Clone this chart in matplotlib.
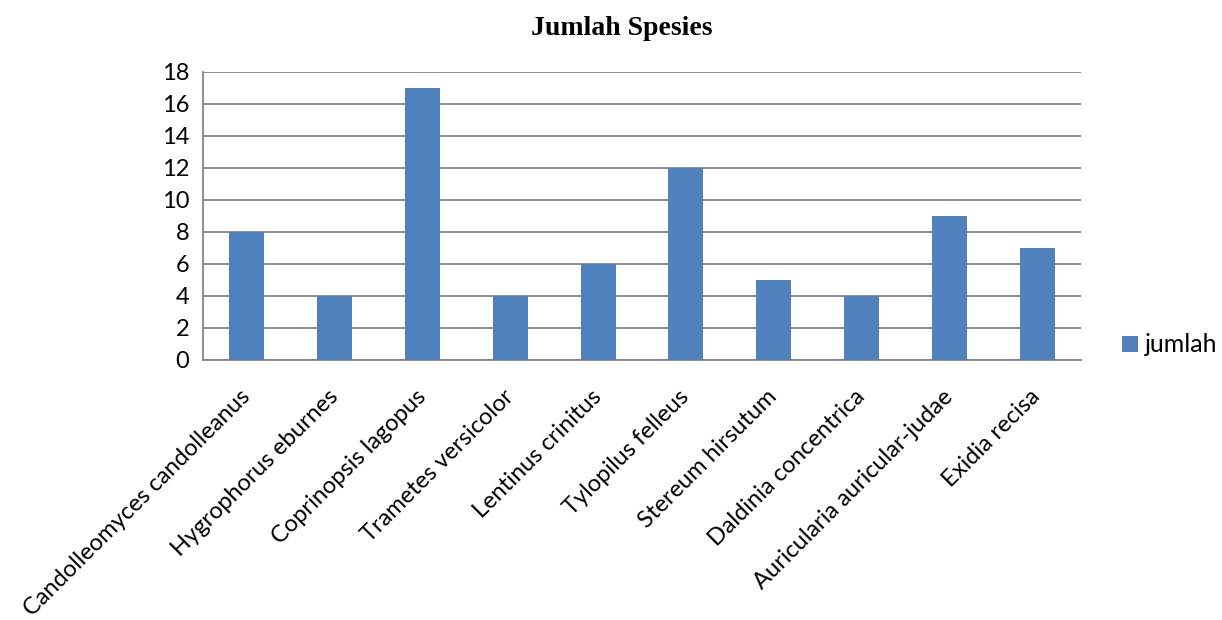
import matplotlib
matplotlib.use("Agg")
import matplotlib.pyplot as plt
import numpy as np

categories = ["Candolleomyces candolleanus", "Hygrophorus eburnes", "Coprinopsis lagopus",
              "Trametes versicolor", "Lentinus crinitus", "Tylopilus felleus",
              "Stereum hirsutum", "Daldinia concentrica", "Auricularia auricular-judae",
              "Exidia recisa"]
values = [8, 4, 17, 4, 6, 12, 5, 4, 9, 7]
series_name = "jumlah"
title = "Jumlah Spesies"

plt.rcParams['font.family'] = ['Lato', 'DejaVu Sans']

fig = plt.figure(figsize=(12.22, 6.2), dpi=100)
ax = fig.add_axes([203/1222, 1-360/620, (1081-203)/1222, (360-72)/620])

x = np.arange(len(categories))
ax.bar(x, values, width=0.4, color="#4F81BD", label=series_name, zorder=3)
ax.set_xlim(-0.5, len(categories)-0.5)
ax.set_ylim(0, 18)
ax.set_yticks(np.arange(0, 19, 2))
ax.yaxis.grid(True, color="#868686", linewidth=1.3, zorder=0)
ax.set_axisbelow(True)
for s in ["top", "right"]:
    ax.spines[s].set_visible(False)
for s in ["left", "bottom"]:
    ax.spines[s].set_color("#868686")
    ax.spines[s].set_linewidth(1.3)
ax.tick_params(axis='both', length=0, labelsize=17, pad=10)
ax.set_xticks(x)
ax.set_xticklabels(categories, rotation=45, ha='right', va='center', rotation_mode='anchor')
ax.tick_params(axis='x', pad=24)

fig.text(621.5/1222, 1-35/620, title, ha='center', va='baseline', fontsize=20,
         fontweight='bold', family=['Liberation Serif', 'DejaVu Serif'])

fig.legend(loc='center left', bbox_to_anchor=(1122/1222, 1-345/620), frameon=False,
           fontsize=18, handlelength=0.62, handleheight=0.62, handletextpad=0.3,
           borderaxespad=0, borderpad=0)

fig.savefig("out.png", dpi=100)
